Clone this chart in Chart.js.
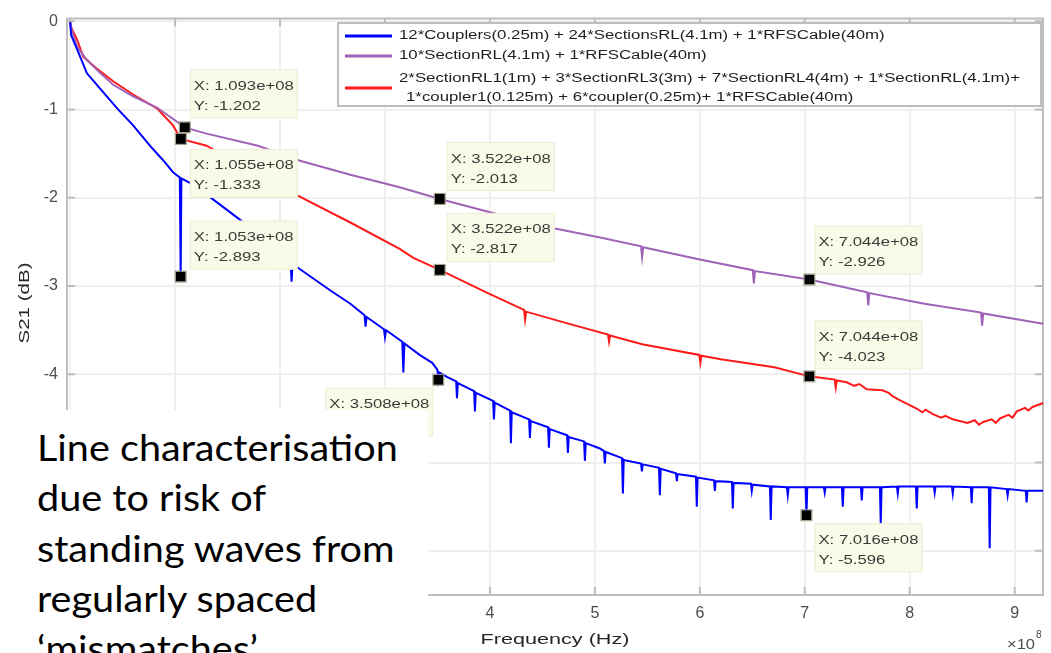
<!DOCTYPE html>
<html lang="en">

<head>
    <meta charset="UTF-8">
    <title>S21 line characterisation</title>
    <style>
        body {
            margin: 0;
            background: #ffffff;
        }

        #wrap {
            position: relative;
            width: 1051px;
            height: 653px;
            overflow: hidden;
        }

        #note {
            position: absolute;
            left: 0;
            top: 410px;
            width: 428px;
            height: 243px;
            background: #ffffff;
            overflow: hidden;
        }

        #note div {
            position: absolute;
            left: 37px;
            top: 12px;
            transform: scaleX(1.1);
            transform-origin: 0 0;
            font-family: Lato, 'Open Sans', sans-serif;
            font-size: 36px;
            line-height: 50.3px;
            color: #000;
            white-space: nowrap;
        }
    </style>
    <script src="https://cdn.jsdelivr.net/npm/chart.js"></script>
</head>

<body>
    <div id="wrap">
        <canvas id="s21Chart" width="1051" height="653"></canvas>
        <div id="note"><div>Line characterisation<br>due to risk of<br>standing waves from<br>regularly spaced<br>‘mismatches’</div></div>
    </div>

    <script>
        // frequencies are in units of 1e8 Hz (axis shows x10^8), S21 in dB
        const freqBlue = [
            0, 0.01, 0.095, 0.16, 0.29, 0.45, 0.60, 0.76, 0.89, 0.98, 1.045, 1.053, 1.06, 1.14, 1.33, 1.62, 1.86,
            2.10, 2.11, 2.12, 2.48, 2.67, 2.805, 2.815, 2.825, 2.99, 3.0, 3.01, 3.165, 3.175, 3.185, 3.33, 3.45, 3.50, 3.508, 3.52, 3.59,
            3.678, 3.686, 3.694, 3.849, 3.857, 3.865, 4.03, 4.038, 4.046, 4.192, 4.2, 4.208, 4.373, 4.381, 4.389,
            4.554, 4.562, 4.57, 4.735, 4.743, 4.751, 4.897, 4.905, 4.913, 5.048,
            5.087, 5.095, 5.103, 5.259, 5.267, 5.275, 5.44, 5.448, 5.456, 5.611, 5.619, 5.627, 5.773, 5.781, 5.789,
            5.963, 5.971, 5.979, 6.135, 6.143, 6.151, 6.306, 6.314, 6.322, 6.487, 6.495, 6.503, 6.668, 6.676, 6.684,
            6.83, 6.838, 6.846, 7.008, 7.016, 7.024, 7.182, 7.19, 7.198, 7.354, 7.362, 7.37, 7.535, 7.543, 7.551,
            7.716, 7.724, 7.732, 7.878, 7.886, 7.894, 8.059, 8.067, 8.075, 8.23, 8.238, 8.246, 8.402, 8.41, 8.418,
            8.582, 8.59, 8.598, 8.754, 8.762, 8.77, 8.925, 8.933, 8.941, 9.106, 9.114, 9.122, 9.286
        ];
        const s21Blue = [
            -0.01, -0.16, -0.40, -0.59, -0.77, -0.99, -1.18, -1.41, -1.58, -1.71, -1.77, -2.893, -1.78, -1.83, -1.99, -2.25, -2.48,
            -2.73, -2.95, -2.75, -3.05, -3.20, -3.33, -3.46, -3.35, -3.49, -3.58, -3.50, -3.63, -3.98, -3.65, -3.78, -3.87, -3.95, -4.062, -3.98, -4.03,
            -4.08, -4.27, -4.10, -4.19, -4.42, -4.21, -4.30, -4.51, -4.32, -4.41, -4.78, -4.43, -4.51, -4.72, -4.53,
            -4.60, -4.83, -4.62, -4.69, -4.89, -4.71, -4.76, -4.98, -4.78, -4.84,
            -4.87, -5.01, -4.88, -4.95, -5.35, -4.97, -5.01, -5.10, -5.02, -5.06, -5.37, -5.07, -5.12, -5.21, -5.13,
            -5.16, -5.50, -5.17, -5.20, -5.32, -5.21, -5.22, -5.52, -5.23, -5.24, -5.32, -5.25, -5.27, -5.65, -5.27,
            -5.28, -5.37, -5.28, -5.28, -5.596, -5.28, -5.28, -5.34, -5.28, -5.28, -5.50, -5.28, -5.28, -5.43, -5.28,
            -5.28, -5.69, -5.28, -5.27, -5.35, -5.27, -5.27, -5.52, -5.27, -5.27, -5.34, -5.27, -5.27, -5.35, -5.27,
            -5.28, -5.46, -5.28, -5.28, -5.97, -5.28, -5.30, -5.37, -5.30, -5.32, -5.45, -5.32, -5.32
        ];

        const freqPurple = [
            0, 0.02, 0.067, 0.16, 0.29, 0.41, 0.60, 0.83, 1.093, 1.29, 1.79, 2.19, 2.67, 3.14, 3.522, 4.02,
            4.355, 4.365, 4.375, 4.63, 5.05, 5.44, 5.45, 5.46, 6.0, 6.505, 6.515, 6.525, 7.044,
            7.595, 7.605, 7.615, 8.14, 8.68, 8.69, 8.70, 9.286
        ];
        const s21Purple = [
            -0.01, -0.12, -0.29, -0.44, -0.59, -0.72, -0.85, -0.98, -1.202, -1.27, -1.41, -1.58, -1.74, -1.88, -2.013, -2.17,
            -2.27, -2.36, -2.28, -2.35, -2.45, -2.55, -2.67, -2.56, -2.70, -2.82, -2.97, -2.83, -2.926,
            -3.07, -3.22, -3.08, -3.20, -3.30, -3.45, -3.31, -3.43
        ];

        const freqRed = [
            0, 0.01, 0.067, 0.124, 0.257, 0.41, 0.60, 0.83, 0.98, 1.055, 1.30, 1.71, 2.16, 2.67, 3.14, 3.27, 3.522, 3.98,
            4.325, 4.335, 4.345, 4.73, 5.125, 5.135, 5.145, 5.45, 5.995, 6.005, 6.015, 6.2, 6.71, 7.044,
            7.285, 7.295, 7.305, 7.40, 7.47, 7.52, 7.59, 7.74, 7.80, 7.84, 7.90, 8.07, 8.12, 8.15, 8.22, 8.30, 8.34,
            8.41, 8.55, 8.62, 8.66, 8.70, 8.78, 8.82, 8.86, 8.94, 8.98, 9.02, 9.10, 9.13, 9.17, 9.286
        ];
        const s21Red = [
            -0.01, -0.07, -0.21, -0.40, -0.54, -0.68, -0.83, -0.99, -1.18, -1.333, -1.41, -1.69, -1.97, -2.28, -2.58, -2.68, -2.817, -3.08,
            -3.27, -3.38, -3.29, -3.42, -3.55, -3.63, -3.56, -3.66, -3.78, -3.87, -3.79, -3.83, -3.92, -4.023,
            -4.06, -4.15, -4.07, -4.09, -4.13, -4.11, -4.17, -4.18, -4.21, -4.25, -4.29, -4.39, -4.43, -4.40, -4.45, -4.49, -4.47,
            -4.51, -4.55, -4.52, -4.57, -4.54, -4.51, -4.55, -4.50, -4.46, -4.49, -4.42, -4.38, -4.41, -4.37, -4.32
        ];

        const seriesLabels = [
            ['12*Couplers(0.25m) + 24*SectionsRL(4.1m) + 1*RFSCable(40m)'],
            ['10*SectionRL(4.1m) + 1*RFSCable(40m)'],
            ['2*SectionRL1(1m) + 3*SectionRL3(3m) + 7*SectionRL4(4m) + 1*SectionRL(4.1m)+',
             '1*coupler1(0.125m) + 6*coupler(0.25m)+ 1*RFSCable(40m)']
        ];

        const xTickValues = [0, 1, 2, 3, 4, 5, 6, 7, 8, 9];
        const xTickLabels = ['0', '1', '2', '3', '4', '5', '6', '7', '8', '9'];
        const yTickValues = [-6, -5, -4, -3, -2, -1, 0];
        const yTickLabels = ['-6', '-5', '-4', '-3', '-2', '-1', '0'];

        // data tips: series index (0 blue, 1 purple, 2 red), x (1e8 Hz), y (dB)
        const tipSeries = [1, 2, 0, 1, 2, 0, 1, 2, 0];
        const tipX = [1.093, 1.055, 1.053, 3.522, 3.522, 3.508, 7.044, 7.044, 7.016];
        const tipY = [-1.202, -1.333, -2.893, -2.013, -2.817, -4.062, -2.926, -4.023, -5.596];

        // styling
        const lineColors = ['#0000ff', '#a062b8', '#ff1a1a'];
        const tipOffsets = [[5, -58], [9, 10], [9, -56], [7, -57], [7, -57], [-113, 8], [5, -54], [5, -56], [8, 8]];
        const FONT = "'Liberation Sans', Arial, sans-serif";

        function toPoints(xs, ys) {
            return xs.map((v, i) => ({ x: v, y: ys[i] }));
        }

        // draws text widened horizontally by sx
        function fitText(ctx, text, x, y, sx, align) {
            ctx.save();
            ctx.translate(x, y);
            ctx.scale(sx, 1);
            ctx.textAlign = align || 'left';
            ctx.fillText(text, 0, 0);
            ctx.restore();
        }

        const matlabExtras = {
            id: 'matlabExtras',
            beforeDatasetsDraw(chart) {
                const { ctx, chartArea: a, scales: { x, y } } = chart;
                ctx.save();
                ctx.strokeStyle = '#bdbdbd';
                ctx.lineWidth = 2;
                ctx.beginPath();
                xTickValues.forEach(v => {
                    const px = x.getPixelForValue(v);
                    ctx.moveTo(px, a.bottom); ctx.lineTo(px, a.bottom - 8);
                    ctx.moveTo(px, a.top); ctx.lineTo(px, a.top + 8);
                });
                yTickValues.forEach(v => {
                    const py = y.getPixelForValue(v);
                    ctx.moveTo(a.left, py); ctx.lineTo(a.left + 8, py);
                    ctx.moveTo(a.right, py); ctx.lineTo(a.right - 8, py);
                });
                ctx.moveTo(a.left, a.top); ctx.lineTo(a.right, a.top); ctx.lineTo(a.right, a.bottom);
                ctx.stroke();
                ctx.restore();
            },
            afterDatasetsDraw(chart) {
                const { ctx, chartArea: a, scales: { x, y } } = chart;
                ctx.save();

                // data tips
                ctx.font = '13px ' + FONT;
                ctx.textBaseline = 'middle';
                const tipSx = 100 / ctx.measureText('X: 1.093e+08').width;
                tipSeries.forEach((s, i) => {
                    const px = x.getPixelForValue(tipX[i]);
                    const py = y.getPixelForValue(tipY[i]);
                    const bx = px + tipOffsets[i][0], by = py + tipOffsets[i][1];
                    ctx.fillStyle = '#fafae8';
                    ctx.fillRect(bx, by, 108, 49);
                    ctx.strokeStyle = '#ececd6';
                    ctx.lineWidth = 1;
                    ctx.strokeRect(bx + 0.5, by + 0.5, 107, 48);
                    ctx.fillStyle = '#3a3a3a';
                    fitText(ctx, 'X: ' + tipX[i].toFixed(3) + 'e+08', bx + 4, by + 17, tipSx);
                    fitText(ctx, 'Y: ' + tipY[i].toFixed(3), bx + 4, by + 37, tipSx);
                    ctx.fillStyle = '#000';
                    ctx.fillRect(px - 5, py - 5, 10, 10);
                    ctx.strokeStyle = '#9a9a84';
                    ctx.strokeRect(px - 5.5, py - 5.5, 11, 11);
                });

                // legend
                ctx.fillStyle = '#ffffff';
                ctx.fillRect(338, 23, 703, 83);
                ctx.strokeStyle = '#bdbdbd';
                ctx.lineWidth = 2;
                ctx.strokeRect(338, 23, 703, 83);
                ctx.font = '12px ' + FONT;
                const legSx = 621 / ctx.measureText(seriesLabels[2][0]).width;
                const rowY = [[36], [56], [79, 98]];
                const sampleY = [36, 56, 88];
                const textX = [[399], [399], [399, 406]];
                seriesLabels.forEach((lines, i) => {
                    ctx.strokeStyle = lineColors[i];
                    ctx.lineWidth = 3;
                    ctx.beginPath();
                    ctx.moveTo(345, sampleY[i]);
                    ctx.lineTo(392, sampleY[i]);
                    ctx.stroke();
                    ctx.fillStyle = '#1e1e1e';
                    lines.forEach((t, j) => fitText(ctx, t, textX[i][j], rowY[i][j], legSx));
                });

                // axis titles
                ctx.fillStyle = '#262626';
                ctx.font = '15px ' + FONT;
                const xt = 'Frequency (Hz)';
                fitText(ctx, xt, (a.left + a.right) / 2, 640, 149 / ctx.measureText(xt).width, 'center');
                const yt = 'S21 (dB)';
                ctx.save();
                ctx.translate(25, 303);
                ctx.rotate(-Math.PI / 2);
                fitText(ctx, yt, 0, 0, 81 / ctx.measureText(yt).width, 'center');
                ctx.restore();

                // exponent
                ctx.fillStyle = '#4d4d4d';
                ctx.font = '15px ' + FONT;
                fitText(ctx, '×10', a.right - 8, 645, 1.1, 'right');
                ctx.font = '10px ' + FONT;
                ctx.fillText('8', a.right - 7, 635);
                ctx.restore();
            }
        };

        new Chart(document.getElementById('s21Chart'), {
            type: 'line',
            data: {
                datasets: [
                    { label: seriesLabels[0].join(' '), data: toPoints(freqBlue, s21Blue), borderColor: lineColors[0], borderWidth: 2 },
                    { label: seriesLabels[1].join(' '), data: toPoints(freqPurple, s21Purple), borderColor: lineColors[1], borderWidth: 2 },
                    { label: seriesLabels[2].join(' '), data: toPoints(freqRed, s21Red), borderColor: lineColors[2], borderWidth: 2 }
                ]
            },
            options: {
                responsive: false,
                animation: false,
                devicePixelRatio: 1,
                layout: { padding: { left: 0, top: 11, right: 8, bottom: 0 } },
                elements: { point: { radius: 0 }, line: { tension: 0, fill: false } },
                plugins: { legend: { display: false }, tooltip: { enabled: false } },
                scales: {
                    x: {
                        type: 'linear',
                        min: -0.03,
                        max: 9.27,
                        afterBuildTicks: s => { s.ticks = xTickValues.map(v => ({ value: v })); },
                        afterFit: s => { s.height = 58; },
                        ticks: {
                            callback: v => xTickLabels[xTickValues.indexOf(v)],
                            autoSkip: false, maxRotation: 0, padding: 9,
                            color: '#4d4d4d', font: { family: FONT, size: 16 }
                        },
                        grid: { color: '#efefef', lineWidth: 2, drawTicks: false },
                        border: { color: '#bdbdbd', width: 2 }
                    },
                    y: {
                        min: -6.5,
                        max: 0.03,
                        afterBuildTicks: s => { s.ticks = yTickValues.map(v => ({ value: v })); },
                        afterFit: s => { s.width = 67; },
                        ticks: {
                            callback: v => yTickLabels[yTickValues.indexOf(v)],
                            autoSkip: false, padding: 9,
                            color: '#4d4d4d', font: { family: FONT, size: 16 }
                        },
                        grid: { color: '#efefef', lineWidth: 2, drawTicks: false },
                        border: { color: '#bdbdbd', width: 2 }
                    }
                }
            },
            plugins: [matlabExtras]
        });
    </script>
</body>

</html>
